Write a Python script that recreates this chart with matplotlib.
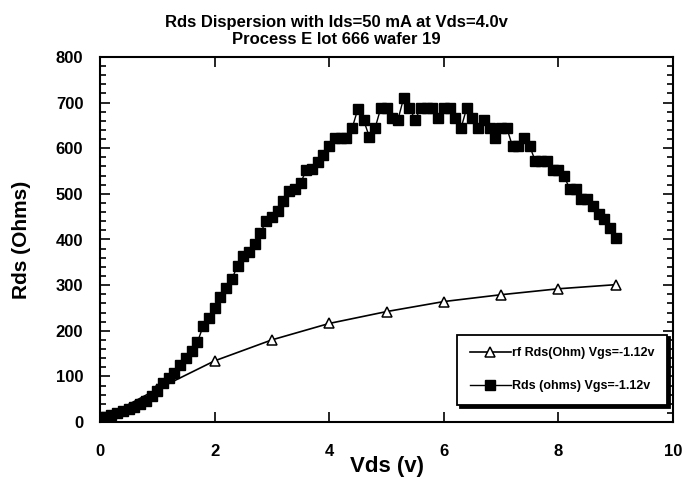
import matplotlib
matplotlib.use("Agg")
import matplotlib.pyplot as plt
from matplotlib.ticker import MultipleLocator
import numpy as np

plt.rcParams['font.family'] = ['Liberation Sans', 'DejaVu Sans']
plt.rcParams['font.weight'] = 'bold'

# rf extracted Rds, one point per volt
vds_rf = [0, 1, 2, 3, 4, 5, 6, 7, 8, 9]
rds_rf = [5, 72, 134, 180, 216, 242, 264, 279, 292, 301]

# dc Rds sweep, 0.1 V steps from 0 to 9 V
vds_dc = np.round(np.arange(0, 91) * 0.1, 1)
rds_dc = [10, 12, 15, 20, 25, 28, 33, 40, 47, 57,
          68, 85, 97, 108, 125, 140, 155, 175, 210, 228,
          250, 273, 294, 313, 342, 364, 373, 390, 415, 440,
          450, 462, 484, 506, 510, 524, 552, 555, 569, 586,
          604, 622, 622, 622, 644, 686, 662, 625, 644, 688,
          688, 666, 663, 710, 688, 663, 688, 688, 688, 666,
          688, 688, 666, 644, 688, 666, 644, 663, 644, 622,
          644, 644, 604, 604, 622, 604, 571, 571, 571, 553,
          553, 539, 510, 510, 488, 488, 473, 455, 444, 426,
          404]

title_lines = ["Rds Dispersion with Ids=50 mA at Vds=4.0v",
               "Process E lot 666 wafer 19"]
x_ticks = [0, 2, 4, 6, 8, 10]
y_ticks = [0, 100, 200, 300, 400, 500, 600, 700, 800]

fig = plt.figure(figsize=(6.86, 4.90), dpi=100)
ax = fig.add_axes([100 / 686, 1 - 422 / 490, 573 / 686, 365 / 490])

ax.plot(vds_rf, rds_rf, color='black', lw=1.2, marker='^', ms=6.5,
        mfc='white', mec='black', mew=1.1,
        label='rf Rds(Ohm) Vgs=-1.12v', zorder=2)
ax.plot(vds_dc, rds_dc, color='black', lw=1.0, marker='s', ms=7.5,
        mfc='black', mec='black',
        label='Rds (ohms) Vgs=-1.12v', zorder=3)

ax.set_xlim(0, 10)
ax.set_ylim(0, 800)
ax.set_xticks(x_ticks)
ax.set_yticks(y_ticks)
ax.yaxis.set_minor_locator(MultipleLocator(20))
ax.tick_params(which='both', direction='in', top=True, right=True,
               width=1.2, labelsize=12)
ax.tick_params(which='major', length=7)
ax.tick_params(which='minor', length=4)
ax.tick_params(axis='x', pad=16)
ax.tick_params(axis='y', pad=12)
for lbl in ax.get_xticklabels() + ax.get_yticklabels():
    lbl.set_fontweight('bold')
for sp in ax.spines.values():
    sp.set_linewidth(1.5)

leg = ax.legend(loc='lower right', bbox_to_anchor=(0.99, 0.047),
                borderaxespad=0, fontsize=9, numpoints=1,
                handlelength=3.3, handletextpad=0.1, labelspacing=1.7,
                borderpad=1.0, fancybox=False, edgecolor='black',
                framealpha=1, shadow={'color': 'black', 'alpha': 1})
leg.get_frame().set_linewidth(1.3)
for t in leg.get_texts():
    t.set_fontweight('bold')

fig.text(0.49, 1 - 31 / 490, "\n".join(title_lines), ha='center',
         va='center', fontsize=12, fontweight='bold', linespacing=1.25)
fig.text(387 / 686, 1 - 466 / 490, "Vds (v)", ha='center', va='center',
         fontsize=16, fontweight='bold')
fig.text(22 / 686, 1 - 240 / 490, "Rds (Ohms)", ha='center', va='center',
         rotation=90, fontsize=15, fontweight='bold')

fig.savefig("out.png", dpi=100)
